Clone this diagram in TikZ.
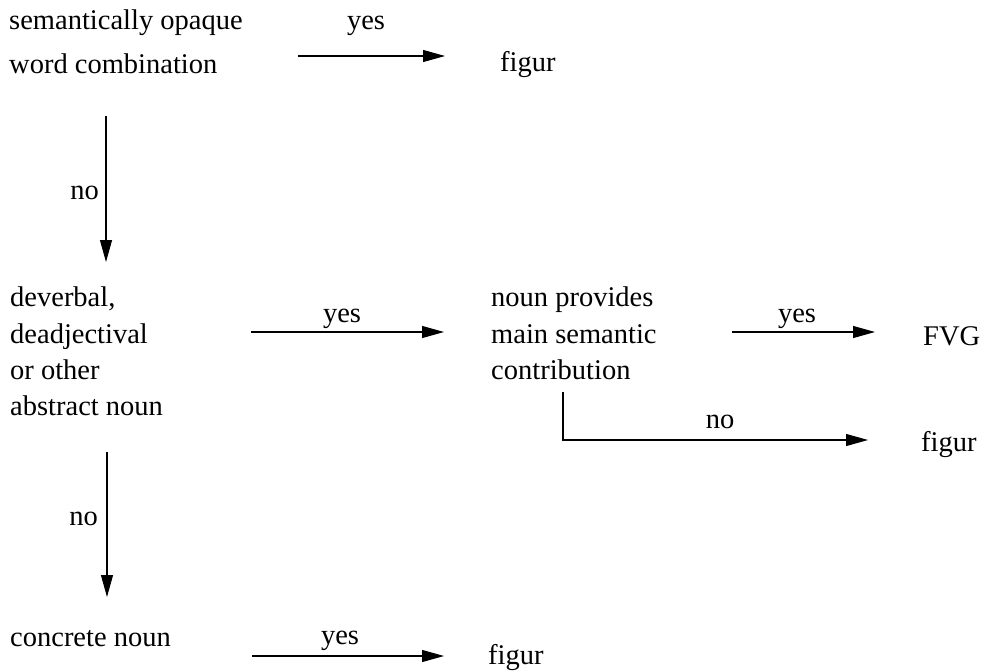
\documentclass[tikz,border=0pt]{standalone}
\usepackage{fontspec}
\setmainfont{Liberation Serif}
\usetikzlibrary{arrows.meta}
\tikzset{
  txt/.style={anchor=base west, inner sep=0pt, font=\fontsize{28.5}{34}\selectfont},
  lbl/.style={anchor=base, inner sep=0pt, font=\fontsize{28.5}{34}\selectfont},
  lblr/.style={anchor=base east, inner sep=0pt, font=\fontsize{28.5}{34}\selectfont},
  arr/.style={-{Triangle[length=22pt,width=12pt]}, line width=1.1pt, black}
}
\begin{document}
\begin{tikzpicture}[x=1pt,y=-1pt]
\useasboundingbox (0,0) rectangle (983,672);
% block 1
\node[txt] (q1a) at (9,29) {semantically opaque};
\node[txt] (q1b) at (9,73) {word combination};
\node[txt] (f1) at (500,71) {figur};
% block 2
\node[txt] (q2a) at (10,306) {deverbal,};
\node[txt] (q2b) at (10,343) {deadjectival};
\node[txt] (q2c) at (10,379) {or other};
\node[txt] (q2d) at (10,415) {abstract noun};
\node[txt] (q3a) at (491,306) {noun provides};
\node[txt] (q3b) at (491,343) {main semantic};
\node[txt] (q3c) at (491,379) {contribution};
\node[txt] (fvg) at (923,345) {FVG};
\node[txt] (f2) at (921,451) {figur};
% block 3
\node[txt] (q4) at (10,646) {concrete noun};
\node[txt] (f3) at (488,664) {figur};
% arrow coordinates
\coordinate (a1s) at (298,56);  \coordinate (a1e) at (445,56);
\coordinate (v1s) at (106,116); \coordinate (v1e) at (106,262);
\coordinate (a2s) at (251,332); \coordinate (a2e) at (444,332);
\coordinate (a3s) at (732,332); \coordinate (a3e) at (875,332);
\coordinate (e1s) at (563,392); \coordinate (e1c) at (563,440); \coordinate (e1e) at (868,440);
\coordinate (v2s) at (107,452); \coordinate (v2e) at (107,597);
\coordinate (a4s) at (252,656); \coordinate (a4e) at (444,656);
% connectors
\draw[arr] (a1s) -- (a1e);
\draw[arr] (v1s) -- (v1e);
\draw[arr] (a2s) -- (a2e);
\draw[arr] (a3s) -- (a3e);
\draw[arr] (e1s) -- (e1c) -- (e1e);
\draw[arr] (v2s) -- (v2e);
\draw[arr] (a4s) -- (a4e);
% labels
\node[lbl] (y1) at (366,29) {yes};
\node[lblr] (n1) at (99,199) {no};
\node[lbl] (y2) at (342,322) {yes};
\node[lbl] (y3) at (797,322) {yes};
\node[lbl] (n3) at (720,428) {no};
\node[lblr] (n2) at (98,525) {no};
\node[lbl] (y4) at (340,644) {yes};
\end{tikzpicture}
\end{document}
